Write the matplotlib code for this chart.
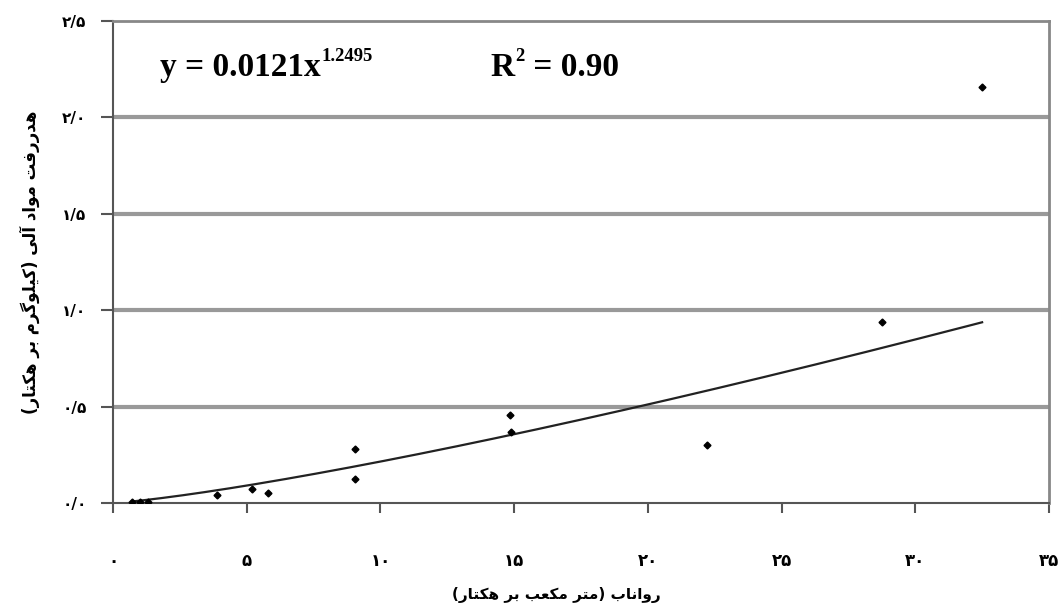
import numpy as np
import matplotlib
matplotlib.use('Agg')
import matplotlib.pyplot as plt

# runoff (m3/ha) and organic matter loss (kg/ha)
runoff = [0.7, 1.0, 1.3, 3.9, 5.2, 5.8, 9.05, 9.05, 14.85, 14.9, 22.2, 28.75, 32.5]
om_loss = [0.005, 0.005, 0.005, 0.04, 0.07, 0.05, 0.28, 0.125, 0.456, 0.37, 0.30, 0.94, 2.16]

# power fit reported on the chart
fit_a = 0.0121
fit_b = 1.2495
fit_r2 = 0.90

x_ticks = [0, 5, 10, 15, 20, 25, 30, 35]
y_ticks = [0.0, 0.5, 1.0, 1.5, 2.0, 2.5]

x_label = 'رواناب (متر مکعب بر هکتار)'
y_label = 'هدررفت مواد آلی (کیلوگرم بر هکتار)'

# contextual forms: isolated, final, initial, medial (None = right-joining only)
FORMS = {
    'ا': ('\uFE8D', '\uFE8E', None, None),
    'آ': ('\uFE81', '\uFE82', None, None),
    'ب': ('\uFE8F', '\uFE90', '\uFE91', '\uFE92'),
    'ت': ('\uFE95', '\uFE96', '\uFE97', '\uFE98'),
    'د': ('\uFEA9', '\uFEAA', None, None),
    'ر': ('\uFEAD', '\uFEAE', None, None),
    'ع': ('\uFEC9', '\uFECA', '\uFECB', '\uFECC'),
    'ف': ('\uFED1', '\uFED2', '\uFED3', '\uFED4'),
    'ک': ('\uFB8E', '\uFB8F', '\uFB90', '\uFB91'),
    'گ': ('\uFB92', '\uFB93', '\uFB94', '\uFB95'),
    'ل': ('\uFEDD', '\uFEDE', '\uFEDF', '\uFEE0'),
    'م': ('\uFEE1', '\uFEE2', '\uFEE3', '\uFEE4'),
    'ن': ('\uFEE5', '\uFEE6', '\uFEE7', '\uFEE8'),
    'و': ('\uFEED', '\uFEEE', None, None),
    'ه': ('\uFEE9', '\uFEEA', '\uFEEB', '\uFEEC'),
    'ی': ('\uFBFC', '\uFBFD', '\uFBFE', '\uFBFF'),
}


def shape_rtl(text):
    """Very small Persian shaper: pick joined forms, then reverse for display."""
    out = []
    for i, ch in enumerate(text):
        if ch not in FORMS:
            out.append(ch)
            continue
        prev = text[i - 1] if i > 0 else ''
        nxt = text[i + 1] if i + 1 < len(text) else ''
        join_prev = prev in FORMS and FORMS[prev][2] is not None
        join_next = nxt in FORMS and FORMS[ch][2] is not None
        iso, fin, ini, med = FORMS[ch]
        if join_prev and join_next:
            out.append(med)
        elif join_prev:
            out.append(fin)
        elif join_next:
            out.append(ini)
        else:
            out.append(iso)
    swap = {'(': ')', ')': '('}
    return ''.join(swap.get(c, c) for c in reversed(out))


def fa_digits(s):
    return s.translate(str.maketrans('0123456789.', '۰۱۲۳۴۵۶۷۸۹/'))


def text_with_sup(ax, x, y, base, sup, tail, size=24):
    # base text, small raised superscript, then the rest on the base line
    style = dict(family='Liberation Serif', fontweight='bold', color='black')
    t1 = ax.text(x, y, base, transform=ax.transAxes, fontsize=size, **style)
    t2 = ax.annotate(sup, xy=(1, 0.58), xycoords=t1, xytext=(1, 0), textcoords='offset points',
                     fontsize=size * 0.56, va='bottom', **style)
    if tail:
        ax.annotate(tail, xy=(1, 0), xycoords=(t2, t1), fontsize=size, va='bottom', **style)


fig = plt.figure(figsize=(10.63, 6.14), dpi=100)
ax = fig.add_axes([0.1063, 0.1808, 0.8805, 0.785])

ax.set_xlim(0, 35)
ax.set_ylim(0, 2.5)

for yv in y_ticks[1:-1]:
    ax.axhline(yv, color='#999999', lw=3, zorder=1)

xs = np.linspace(min(runoff), max(runoff), 200)
ax.plot(xs, fit_a * xs ** fit_b, color='#222222', lw=1.6, zorder=2)
ax.plot(runoff, om_loss, linestyle='none', marker='D', ms=3.5, color='black', zorder=3)

ax.set_xticks(x_ticks)
ax.set_xticklabels([fa_digits(str(v)) for v in x_ticks], fontsize=12, fontweight='bold',
                   family='DejaVu Sans')
ax.set_yticks(y_ticks)
ax.set_yticklabels([fa_digits(f'{v:.1f}') for v in y_ticks], fontsize=11, fontweight='bold',
                   family='DejaVu Sans')
ax.tick_params(axis='x', length=7, width=1.5, pad=28, color='#555555')
ax.tick_params(axis='y', length=9, width=1.5, pad=10, color='#555555')

for side in ['left', 'bottom']:
    ax.spines[side].set_color('#555555')
    ax.spines[side].set_linewidth(1.5)
for side in ['top', 'right']:
    ax.spines[side].set_color('#888888')
    ax.spines[side].set_linewidth(2)

ax.set_xlabel(shape_rtl(x_label), fontsize=11, fontweight='bold', family='DejaVu Sans')
ax.xaxis.set_label_coords(0.474, -0.175)
ax.set_ylabel(shape_rtl(y_label), fontsize=12, fontweight='bold', family='DejaVu Sans')
ax.yaxis.set_label_coords(-0.078, 0.5)

text_with_sup(ax, 0.05, 0.885, f'y = {fit_a}x', f'{fit_b}', '')
text_with_sup(ax, 0.403, 0.885, 'R', '2', f' = {fit_r2:.2f}')

fig.savefig('out.png', dpi=100)
